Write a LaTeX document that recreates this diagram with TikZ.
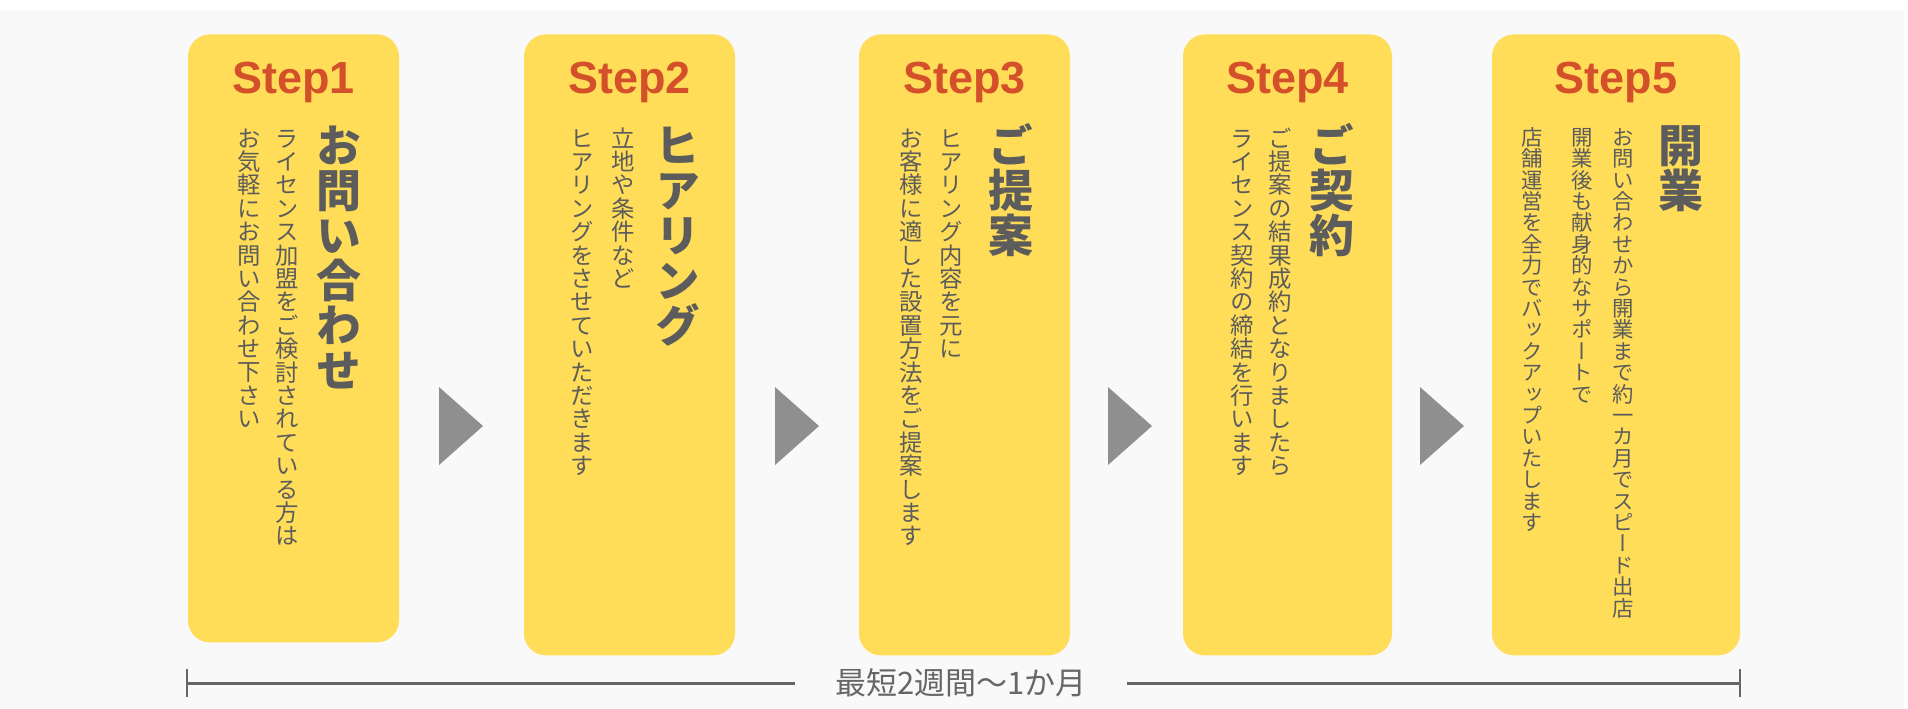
\documentclass[tikz,border=0pt]{standalone}
\usepackage{fontspec}
\setmainfont{Noto Sans CJK JP}
\newfontfamily\stepfont{Liberation Sans}
\newfontfamily\tatefont[Vertical=Alternates]{Noto Sans CJK JP}
\usetikzlibrary{positioning}
\definecolor{bggrey}{HTML}{F9F9F9}
\definecolor{cardyellow}{HTML}{FFDD58}
\definecolor{steporange}{HTML}{D4502A}
\definecolor{textgrey}{HTML}{5C5C5C}
\definecolor{arrowgrey}{HTML}{8F8F8F}
\definecolor{linegrey}{HTML}{666666}
% vertical writing: one upright character under the other
\newcommand\tate[1]{\vbox{\offinterlineskip\tatestep#1\relax}}
\def\tatestep#1{\ifx#1\relax\else\hbox to 1em{\vrule height .88em depth .12em width 0pt\hss#1\hss}\expandafter\tatestep\fi}
\tikzset{
    x=0.5pt, y=-0.5pt,% one unit is one pixel of the layout, y runs down
    card/.style={fill=cardyellow, rounded corners=11pt, inner sep=0pt, anchor=north, minimum width=105.5pt},
    steplabel/.style={anchor=base, inner sep=0pt, text=steporange, font=\stepfont\bfseries\fontsize{22.5pt}{26pt}\selectfont},
    tatetitle/.style={anchor=north, inner sep=0pt, text=textgrey, font=\tatefont\bfseries\fontsize{22.5pt}{22.5pt}\selectfont},
    tatetext/.style={anchor=north, inner sep=0pt, text=textgrey, font=\tatefont\fontsize{11.7pt}{11.7pt}\selectfont},
    tatesmall/.style={tatetext, font=\tatefont\fontsize{10.7pt}{10.7pt}\selectfont},
}
\begin{document}
\begin{tikzpicture}
    \useasboundingbox (0,0) rectangle (1908,708);
    \fill[bggrey] (0,10) rectangle (1904,708);
    % the five steps
    \node[card, minimum height=304pt] (card1) at (293.5,34) {};
    \node[card, minimum height=310.5pt] (card2) at (629.5,34) {};
    \node[card, minimum height=310.5pt] (card3) at (964.5,34) {};
    \node[card, minimum height=310.5pt, minimum width=104.5pt] (card4) at (1287.5,34) {};
    \node[card, minimum height=310.5pt, minimum width=124pt] (card5) at (1616,34) {};
    \foreach \i in {1,...,5}
        \node[steplabel] (step\i) at ([yshift=-29.5pt]card\i.north) {Step\i};
    % titles
    \node[tatetitle] (title1) at ([xshift=-30pt, yshift=-44pt]card1.north east) {\tate{お問い合わせ}};
    \node[tatetitle] (title2) at ([xshift=-28.5pt, yshift=-44pt]card2.north east) {\tate{ヒアリング}};
    \node[tatetitle] (title3) at ([xshift=-29.5pt, yshift=-44pt]card3.north east) {\tate{ご提案}};
    \node[tatetitle] (title4) at ([xshift=-30pt, yshift=-44pt]card4.north east) {\tate{ご契約}};
    \node[tatetitle] (title5) at ([xshift=-29.5pt, yshift=-44pt]card5.north east) {\tate{開業}};
    % descriptions
    \node[tatetext] (text1a) at ([xshift=-56pt, yshift=-46pt]card1.north east) {\tate{ライセンス加盟をご検討されている方は}};
    \node[tatetext] (text1b) at ([xshift=-75pt, yshift=-46pt]card1.north east) {\tate{お気軽にお問い合わせ下さい}};
    \node[tatetext] (text2a) at ([xshift=-56pt, yshift=-46pt]card2.north east) {\tate{立地や条件など}};
    \node[tatetext] (text2b) at ([xshift=-76.5pt, yshift=-46pt]card2.north east) {\tate{ヒアリングをさせていただきます}};
    \node[tatetext] (text3a) at ([xshift=-59.5pt, yshift=-46pt]card3.north east) {\tate{ヒアリング内容を元に}};
    \node[tatetext] (text3b) at ([xshift=-79.5pt, yshift=-46pt]card3.north east) {\tate{お客様に適した設置方法をご提案します}};
    \node[tatetext] (text4a) at ([xshift=-56pt, yshift=-46pt]card4.north east) {\tate{ご提案の結果成約となりましたら}};
    \node[tatetext] (text4b) at ([xshift=-75pt, yshift=-46pt]card4.north east) {\tate{ライセンス契約の締結を行います}};
    \node[tatesmall] (text5a) at ([xshift=-58.5pt, yshift=-46pt]card5.north east) {\tate{お問い合わせから開業まで約一カ月でスピード出店}};
    \node[tatesmall] (text5b) at ([xshift=-79pt, yshift=-46pt]card5.north east) {\tate{開業後も献身的なサポートで}};
    \node[tatesmall] (text5c) at ([xshift=-104pt, yshift=-46pt]card5.north east) {\tate{店舗運営を全力でバックアップいたします}};
    % arrows between the steps
    \foreach \ax in {439,775,1108,1420}
        \fill[arrowgrey] (\ax,387) -- ++(44,39) -- ++(-44,39) -- cycle;
    % time span
    \coordinate (spanstart) at (187,683);
    \coordinate (spanend) at (1740,683);
    \node[inner xsep=20pt, inner ysep=0pt, text=linegrey, font=\fontsize{15.5pt}{18pt}\selectfont] (span) at (961,683) {最短2週間〜1か月};
    \draw[linegrey, line width=1.5pt] (spanstart) -- (span.west);
    \draw[linegrey, line width=1.5pt] (span.east) -- (spanend);
    \draw[linegrey, line width=1pt] ([yshift=7pt]spanstart) -- ([yshift=-7pt]spanstart);
    \draw[linegrey, line width=1pt] ([yshift=7pt]spanend) -- ([yshift=-7pt]spanend);
\end{tikzpicture}
\end{document}
